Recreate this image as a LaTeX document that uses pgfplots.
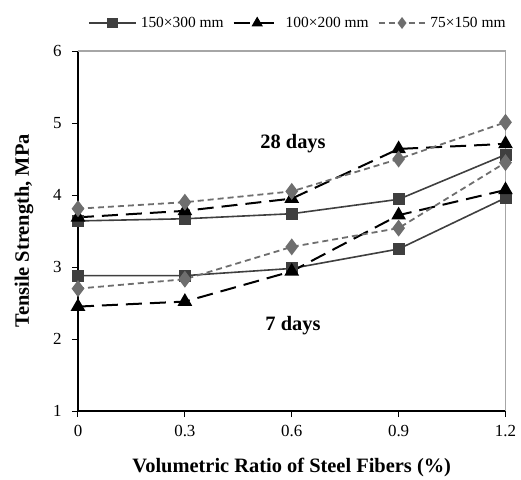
\documentclass[border=0pt]{standalone}
\usepackage{fontspec}
\setmainfont{Liberation Serif}
\usepackage{pgfplots}
\pgfplotsset{compat=1.18}
\definecolor{sqc}{HTML}{3F3F3F}
\definecolor{dmc}{HTML}{6E6E6E}
\definecolor{brd}{HTML}{A6A6A6}
\begin{document}
\begin{tikzpicture}
\begin{axis}[
  at={(0,0)}, anchor=south west,
  scale only axis, width=427.5bp, height=360bp,
  xmin=0, xmax=1.2, ymin=1, ymax=6,
  axis x line*=bottom, axis y line*=left,
  axis line style={black, line width=1.8bp, -},
  xtick={0,0.3,0.6,0.9,1.2},
  xticklabels={0,0.3,0.6,0.9,1.2},
  ytick={1,2,3,4,5,6},
  yticklabels={1,2,3,4,5,6},
  tick align=outside, major tick length=6bp,
  tick style={black, line width=1bp},
  /pgf/number format/assume math mode=true,
  every tick label/.append style={font=\fontsize{17}{19}\selectfont},
  xticklabel style={yshift=-5bp},
  yticklabel style={xshift=-7bp},
  xlabel={\textbf{Volumetric Ratio of Steel Fibers (\%)}},
  ylabel={\textbf{Tensile Strength, MPa}},
  label style={font=\fontsize{20.5}{22}\selectfont},
  xlabel style={at={(axis description cs:0.5,-0.1556)}, anchor=center},
  ylabel style={at={(axis description cs:-0.1263,0.5)}, anchor=center},
  legend style={draw=none, fill=none, inner sep=0pt, at={(axis description cs:0,1)}, anchor=west, xshift=10bp, yshift=28bp,
    legend columns=3, font=\fontsize{15.5}{17}\selectfont,
    /tikz/every odd column/.append style={column sep=2bp},
    /tikz/every even column/.append style={column sep=7bp}},
  legend image code/.code={\draw[#1] (0bp,0bp) -- (47bp,0bp); \draw[#1, solid, mark size=4.5bp] plot coordinates {(23.5bp,0bp)};},
  clip=false,
]
\draw[brd, line width=1.3bp] (rel axis cs:0,1) -- (rel axis cs:1,1) -- (rel axis cs:1,0);
% 28 days
\addplot[sqc, line width=1.6bp, mark=square*, mark size=5.2bp, mark options={fill=sqc, draw=sqc, solid}]
  coordinates {(0,3.64) (0.3,3.67) (0.6,3.74) (0.9,3.94) (1.2,4.56)};
\addlegendentry{150×300 mm}
\addplot[black, line width=2bp, dash pattern=on 16bp off 8bp, mark=triangle*, mark size=6.5bp, mark options={fill=black, solid}]
  coordinates {(0,3.69) (0.3,3.78) (0.6,3.95) (0.9,4.64) (1.2,4.71)};
\addlegendentry{100×200 mm}
\addplot[dmc, line width=1.8bp, dash pattern=on 6bp off 4bp, mark=diamond*, mark size=7bp, mark options={fill=dmc, draw=dmc, solid}]
  coordinates {(0,3.81) (0.3,3.90) (0.6,4.05) (0.9,4.50) (1.2,5.01)};
\addlegendentry{75×150 mm}
% 7 days
\addplot[sqc, line width=1.6bp, mark=square*, mark size=5.2bp, mark options={fill=sqc, draw=sqc, solid}, forget plot]
  coordinates {(0,2.88) (0.3,2.88) (0.6,2.98) (0.9,3.25) (1.2,3.96)};
\addplot[black, line width=2bp, dash pattern=on 16bp off 8bp, mark=triangle*, mark size=6.5bp, mark options={fill=black, solid}, forget plot]
  coordinates {(0,2.45) (0.3,2.52) (0.6,2.94) (0.9,3.72) (1.2,4.07)};
\addplot[dmc, line width=1.8bp, dash pattern=on 6bp off 4bp, mark=diamond*, mark size=7bp, mark options={fill=dmc, draw=dmc, solid}, forget plot]
  coordinates {(0,2.70) (0.3,2.83) (0.6,3.28) (0.9,3.54) (1.2,4.45)};
\node[font=\bfseries\fontsize{20.5}{22}\selectfont] at (axis cs:0.6035,4.72) {28 days};
\node[font=\bfseries\fontsize{20.5}{22}\selectfont] at (axis cs:0.6035,2.19) {7 days};
\end{axis}
\path[use as bounding box] (-78bp,-68bp) rectangle (443bp,411bp);
\end{tikzpicture}
\end{document}
